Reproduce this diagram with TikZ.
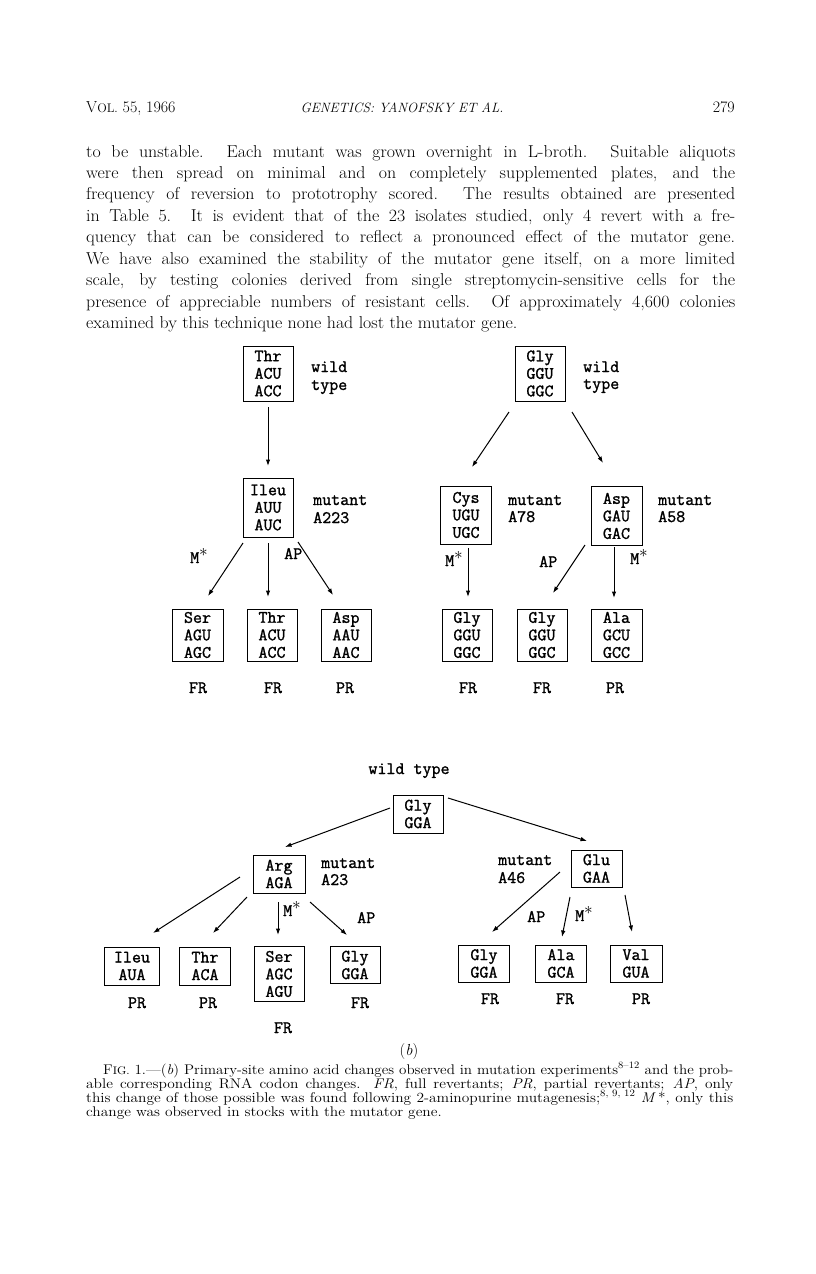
\documentclass[tikz,border=0pt]{standalone}
\usepackage{fontspec}
\usepackage{graphicx}
\usetikzlibrary{arrows.meta,calc}
\newfontfamily\cfam{Latin Modern Mono}[FakeBold=1.3]
\newfontfamily\bodyfam{Latin Modern Roman}[FakeStretch=1.04,Ligatures=TeX]
\newfontfamily\capfam{Latin Modern Roman}[FakeStretch=1.1,Ligatures=TeX]
\newlength\natw
\newcommand\fitline[2]{\settowidth\natw{#2}\ifdim\natw>#1\relax\resizebox{#1}{\height}{#2}\else\makebox[#1][s]{#2}\fi}
\newcommand\cfont{\fontsize{17.5}{17.5}\selectfont\cfam}
\newcommand\bodyfont{\fontsize{17.2}{21.45}\selectfont\bodyfam}
\newcommand\capfont{\fontsize{14}{14}\selectfont\capfam}
\newcommand\headfont{\fontsize{16}{18}\selectfont}
\newcommand\Mstar{M\raisebox{0.38em}{$\ast$}}
\tikzset{
  cbox/.style={draw, line width=1pt, inner sep=0pt, align=center, font=\cfont},
  lab/.style={anchor=base west, inner sep=0pt, font=\cfont},
  clab/.style={anchor=base, inner sep=0pt, font=\cfont},
  arr/.style={line width=1pt, -{Latex[length=6.5pt,width=4.5pt]}},
  body/.style={anchor=base west, inner sep=0pt, font=\bodyfont},
  capt/.style={anchor=base west, inner sep=0pt, font=\capfont},
}
\begin{document}
\begin{tikzpicture}[x=1pt,y=-1pt]
\fill[white] (0,0) rectangle (816,1274);
\useasboundingbox (0,0) rectangle (816,1274);

% header
\node[anchor=base west, inner sep=0pt, font=\headfont] (hl) at (86,112) {V{\fontsize{12.5}{14}\selectfont OL.} 55, 1966};
\node[anchor=base, inner sep=0pt, font=\fontsize{13.5}{16}\selectfont] (hc) at (402,112) {\textit{GENETICS: YANOFSKY ET AL.}};
\node[anchor=base east, inner sep=0pt, font=\headfont] (hr) at (735,112) {279};

% body text
\node[body] (b1) at (86,157.0) {\fitline{649pt}{to be unstable. Each mutant was grown overnight in L-broth. Suitable aliquots}};
\node[body] (b2) at (86,178.45) {\fitline{649pt}{were then spread on minimal and on completely supplemented plates, and the}};
\node[body] (b3) at (86,199.9) {\fitline{649pt}{frequency of reversion to prototrophy scored. The results obtained are presented}};
\node[body] (b4) at (86,221.35) {\fitline{649pt}{in Table 5. It is evident that of the 23 isolates studied, only 4 revert with a fre-}};
\node[body] (b5) at (86,242.8) {\fitline{649pt}{quency that can be considered to reflect a pronounced effect of the mutator gene.}};
\node[body] (b6) at (86,264.25) {\fitline{649pt}{We have also examined the stability of the mutator gene itself, on a more limited}};
\node[body] (b7) at (86,285.7) {\fitline{649pt}{scale, by testing colonies derived from single streptomycin-sensitive cells for the}};
\node[body] (b8) at (86,307.15) {\fitline{649pt}{presence of appreciable numbers of resistant cells. Of approximately 4,600 colonies}};
\node[body] (b9) at (86,328.6) {examined by this technique none had lost the mutator gene.};

% ---------- top-left diagram ----------
\node[cbox, minimum width=50, minimum height=55] (T1) at (268,373.5) {Thr\\ACU\\ACC};
\node[lab] (T1a) at (311,372) {wild};
\node[lab] (T1b) at (311,390) {type};
\node[cbox, minimum width=50, minimum height=59] (I1) at (268,507.5) {Ileu\\AUU\\AUC};
\node[lab] (I1a) at (313,505) {mutant};
\node[lab] (I1b) at (313,523) {A223};
\node[cbox, minimum width=51, minimum height=52] (L1) at (197.5,635) {Ser\\AGU\\AGC};
\node[cbox, minimum width=50, minimum height=52] (L2) at (272,635) {Thr\\ACU\\ACC};
\node[cbox, minimum width=50, minimum height=52] (L3) at (346,635) {Asp\\AAU\\AAC};
\node[clab] (L1r) at (198,693) {FR};
\node[clab] (L2r) at (273,693) {FR};
\node[clab] (L3r) at (345,693) {PR};
\draw[arr] ($(T1.center)+(0,33.5)$) -- ($(I1.center)+(0,-41.5)$);
\draw[arr] ($(I1.center)+(-25,35.5)$) -- ($(L1.center)+(10.5,-39)$);
\draw[arr] ($(I1.center)+(0,35.5)$) -- ($(L2.center)+(-4,-38)$);
\draw[arr] ($(I1.center)+(30,34.5)$) -- ($(L3.center)+(-13,-40)$);
\node[lab] (m1) at (190,563) {\Mstar};
\node[lab] (a1) at (284,559) {AP};

% ---------- top-right diagram ----------
\node[cbox, minimum width=50, minimum height=55] (G1) at (540,373.5) {Gly\\GGU\\GGC};
\node[lab] (G1a) at (583,372) {wild};
\node[lab] (G1b) at (583,389) {type};
\node[cbox, minimum width=51, minimum height=58] (C1) at (466,515) {Cys\\UGU\\UGC};
\node[lab] (C1a) at (508,505) {mutant};
\node[lab] (C1b) at (508,522) {A78};
\node[cbox, minimum width=51, minimum height=59] (A1) at (616.5,516) {Asp\\GAU\\GAC};
\node[lab] (A1a) at (658,505) {mutant};
\node[lab] (A1b) at (658,522) {A58};
\node[cbox, minimum width=50, minimum height=52] (R1) at (467,635) {Gly\\GGU\\GGC};
\node[cbox, minimum width=50, minimum height=52] (R2) at (542,635) {Gly\\GGU\\GGC};
\node[cbox, minimum width=51, minimum height=52] (R3) at (616.5,635) {Ala\\GCU\\GCC};
\node[clab] (R1r) at (468,693) {FR};
\node[clab] (R2r) at (542,693) {FR};
\node[clab] (R3r) at (615,693) {PR};
\draw[arr] ($(G1.center)+(-31,38.5)$) -- ($(C1.center)+(6,-48)$);
\draw[arr] ($(G1.center)+(32,38.5)$) -- ($(A1.center)+(-13.5,-53)$);
\draw[arr] ($(C1.center)+(2,33)$) -- ($(R1.center)+(1,-38)$);
\draw[arr] ($(A1.center)+(-31.5,29)$) -- ($(R2.center)+(11,-42)$);
\draw[arr] ($(A1.center)+(-2.5,31)$) -- ($(R3.center)+(-2.5,-37)$);
\node[lab] (m2) at (445,566) {\Mstar};
\node[lab] (a2) at (539,567) {AP};
\node[lab] (m3) at (630,564) {\Mstar};

% ---------- bottom diagram ----------
\node[clab] (wt) at (409,774) {wild type};
\node[cbox, minimum width=50, minimum height=38] (W) at (418,814) {Gly\\GGA};
\node[cbox, minimum width=52, minimum height=38] (R) at (279,874) {Arg\\AGA};
\node[lab] (Ra) at (321,868) {mutant};
\node[lab] (Rb) at (321,885) {A23};
\node[cbox, minimum width=51, minimum height=37] (U) at (596.5,868.5) {Glu\\GAA};
\node[lab] (Ua) at (498,865) {mutant};
\node[lab] (Ub) at (498,883) {A46};
\node[cbox, minimum width=55, minimum height=38] (P1) at (132,966) {Ileu\\AUA};
\node[cbox, minimum width=51, minimum height=38] (P2) at (205,966) {Thr\\ACA};
\node[cbox, minimum width=50, minimum height=55] (P3) at (279,974) {Ser\\AGC\\AGU};
\node[cbox, minimum width=50, minimum height=37] (P4) at (355,965) {Gly\\GGA};
\node[cbox, minimum width=51, minimum height=37] (Q1) at (484,963.5) {Gly\\GGA};
\node[cbox, minimum width=51, minimum height=37] (Q2) at (561,963.5) {Ala\\GCA};
\node[cbox, minimum width=52, minimum height=37] (Q3) at (636,963.5) {Val\\GUA};
\node[clab] (P1r) at (137,1008) {PR};
\node[clab] (P2r) at (208,1008) {PR};
\node[clab] (P3r) at (283,1033) {FR};
\node[clab] (P4r) at (360,1008) {FR};
\node[clab] (Q1r) at (490,1004) {FR};
\node[clab] (Q2r) at (565,1004) {FR};
\node[clab] (Q3r) at (641,1004) {PR};
\draw[arr] ($(W.center)+(-28,-6)$) -- ($(R.center)+(6,-27)$);
\draw[arr] ($(W.center)+(30,-16)$) -- ($(U.center)+(-9.5,-27.5)$);
\draw[arr] ($(R.center)+(-39,3)$) -- ($(P1.center)+(21,-33)$);
\draw[arr] ($(R.center)+(-32,23)$) -- ($(P2.center)+(8,-33)$);
\draw[arr] ($(R.center)+(-1,28)$) -- ($(P3.center)+(-1,-39)$);
\draw[arr] ($(R.center)+(31,28)$) -- ($(P4.center)+(-8,-30)$);
\draw[arr] ($(U.center)+(-36.5,3.5)$) -- ($(Q1.center)+(8,-31.5)$);
\draw[arr] ($(U.center)+(-26.5,28.5)$) -- ($(Q2.center)+(1,-26.5)$);
\draw[arr] ($(U.center)+(28.5,26.5)$) -- ($(Q3.center)+(-4,-31.5)$);
\node[lab] (m4) at (283,916) {\Mstar};
\node[lab] (a4) at (357,923) {AP};
\node[lab] (a5) at (527,922) {AP};
\node[lab] (m5) at (575,921) {\Mstar};

% caption
\node[anchor=base, inner sep=0pt, font=\fontsize{16}{18}\selectfont] (sub) at (409,1055) {(\textit{b})};
\node[capt] (c1) at (103,1074) {\fitline{630pt}{F{\fontsize{11}{12}\selectfont IG.} 1.—(\textit{b}) Primary-site amino acid changes observed in mutation experiments\textsuperscript{8–12} and the prob-}};
\node[capt] (c2) at (86,1088) {\fitline{647pt}{able corresponding RNA codon changes. \textit{FR}, full revertants; \textit{PR}, partial revertants; \textit{AP}, only}};
\node[capt] (c3) at (86,1102) {\fitline{647pt}{this change of those possible was found following 2-aminopurine mutagenesis;\textsuperscript{8, 9, 12} \textit{M}\,*, only this}};
\node[capt] (c4) at (86,1116) {change was observed in stocks with the mutator gene.};
\end{tikzpicture}
\end{document}
